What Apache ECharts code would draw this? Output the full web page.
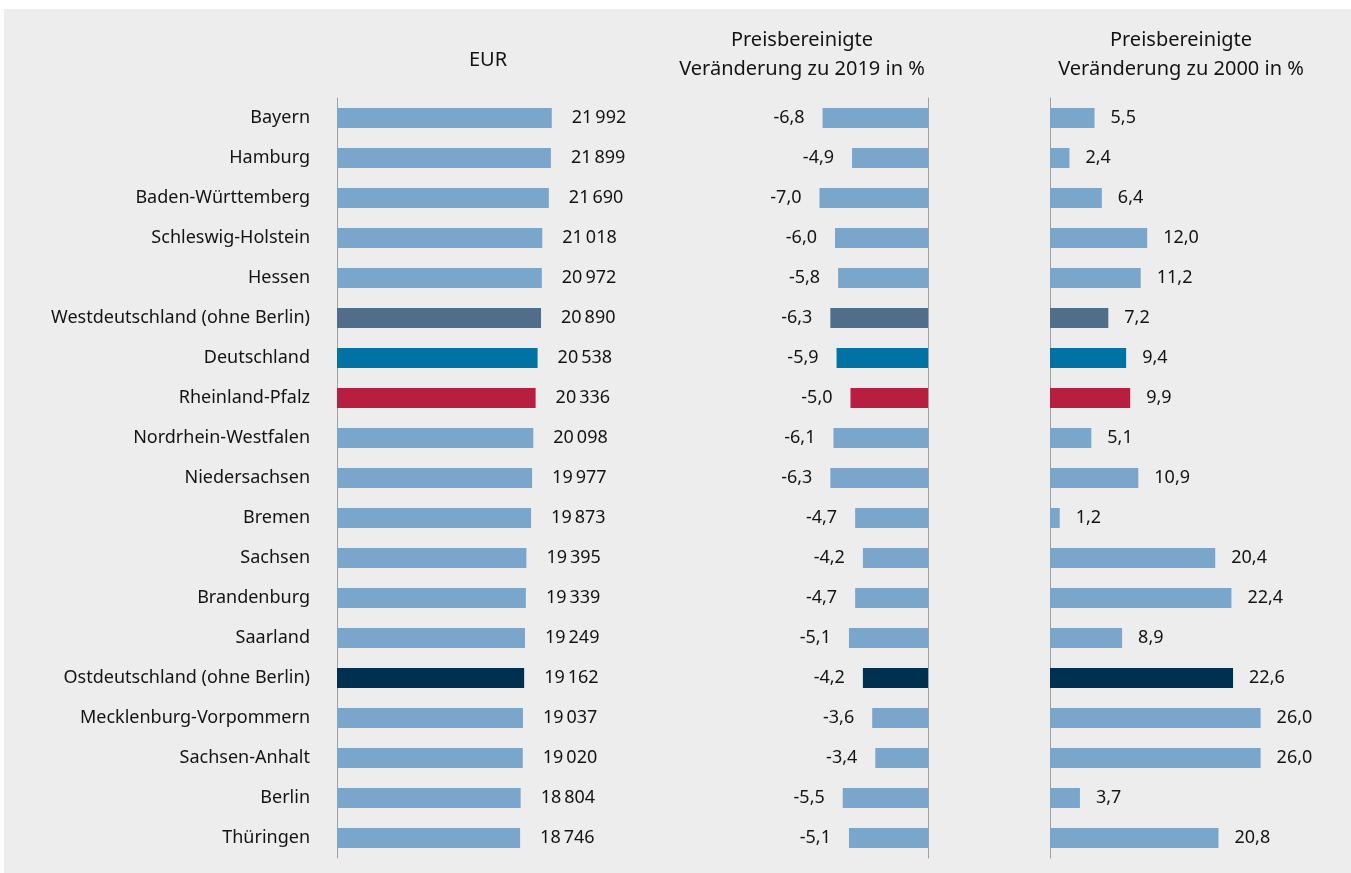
<!DOCTYPE html>
<html><head><meta charset="utf-8">
<script src="https://cdn.jsdelivr.net/npm/echarts@6/dist/echarts.min.js"></script>
<style>
html,body{margin:0;padding:0;background:#fff;}
#wrap{position:absolute;left:4px;top:9px;width:1347px;height:864px;background:#ededed;}
#c{position:absolute;left:0;top:0;width:1351px;height:873px;}
</style></head>
<body><div id="wrap"></div><div id="c"></div>
<script>
const categories = ["Bayern","Hamburg","Baden-Württemberg","Schleswig-Holstein","Hessen","Westdeutschland (ohne Berlin)","Deutschland","Rheinland-Pfalz","Nordrhein-Westfalen","Niedersachsen","Bremen","Sachsen","Brandenburg","Saarland","Ostdeutschland (ohne Berlin)","Mecklenburg-Vorpommern","Sachsen-Anhalt","Berlin","Thüringen"];
const eurValues = [21992,21899,21690,21018,20972,20890,20538,20336,20098,19977,19873,19395,19339,19249,19162,19037,19020,18804,18746];
const change2019 = [-6.8,-4.9,-7.0,-6.0,-5.8,-6.3,-5.9,-5.0,-6.1,-6.3,-4.7,-4.2,-4.7,-5.1,-4.2,-3.6,-3.4,-5.5,-5.1];
const change2000 = [5.5,2.4,6.4,12.0,11.2,7.2,9.4,9.9,5.1,10.9,1.2,20.4,22.4,8.9,22.6,26.0,26.0,3.7,20.8];
const panelTitles = ["EUR","Preisbereinigte\nVeränderung zu 2019 in %","Preisbereinigte\nVeränderung zu 2000 in %"];

const baseColor = "#7aa6cb";
const highlight = {
  "Westdeutschland (ohne Berlin)": "#506e8a",
  "Deutschland": "#0072a4",
  "Rheinland-Pfalz": "#b81e40",
  "Ostdeutschland (ohne Berlin)": "#00304f"
};
const FONT = "Noto Sans";
function items(vals){
  return vals.map((v,i)=>({value:v,itemStyle:{color:highlight[categories[i]]||baseColor}}));
}
function fmtEur(v){ const s=String(v); return s.slice(0,s.length-3)+"\u2009"+s.slice(-3); }
function fmtPct(v){ return v.toFixed(1).replace(".",","); }

const chart = echarts.init(document.getElementById('c'), null, {renderer:'canvas'});
const grids = [
  {left:337, top:98, width:293, height:760},
  {left:804, top:98, width:124, height:760},
  {left:1050, top:98, width:243, height:760}
];
const xRanges = [[0,30000],[-8,0],[0,30]];
const txt = {fontFamily:FONT, fontSize:18, color:"#141414"};
chart.setOption({
  backgroundColor:'transparent',
  animation:false,
  title: panelTitles.map((t,i)=>({
    text:t,
    left: [483,797,1176][i], top: i===0?41:21, textAlign:'center',
    textStyle:{fontFamily:FONT,fontSize:20,fontWeight:'normal',color:'#141414',lineHeight:29}
  })),
  grid: grids,
  xAxis: xRanges.map((r,i)=>({
    type:'value', gridIndex:i, min:r[0], max:r[1], show:false
  })),
  yAxis: [0,1,2].map(i=>({
    type:'category', gridIndex:i, data:categories, inverse:true,
    position: i===1 ? 'right' : 'left',
    axisLine:{show:true,lineStyle:{color:'#a0a0a0',width:1}},
    axisTick:{show:false},
    axisLabel:{show:i===0, margin:27, ...txt}
  })),
  series: [
    {type:'bar', xAxisIndex:0, yAxisIndex:0, data:items(eurValues), barWidth:20,
     label:{show:true, position:'right', distance:20, formatter:p=>fmtEur(p.value), ...txt}},
    {type:'bar', xAxisIndex:1, yAxisIndex:1, data:items(change2019), barWidth:20,
     label:{show:true, position:'left', distance:18, formatter:p=>fmtPct(p.value), ...txt}},
    {type:'bar', xAxisIndex:2, yAxisIndex:2, data:items(change2000), barWidth:20,
     label:{show:true, position:'right', distance:16, formatter:p=>fmtPct(p.value), ...txt}}
  ]
});
</script>
</body></html>
